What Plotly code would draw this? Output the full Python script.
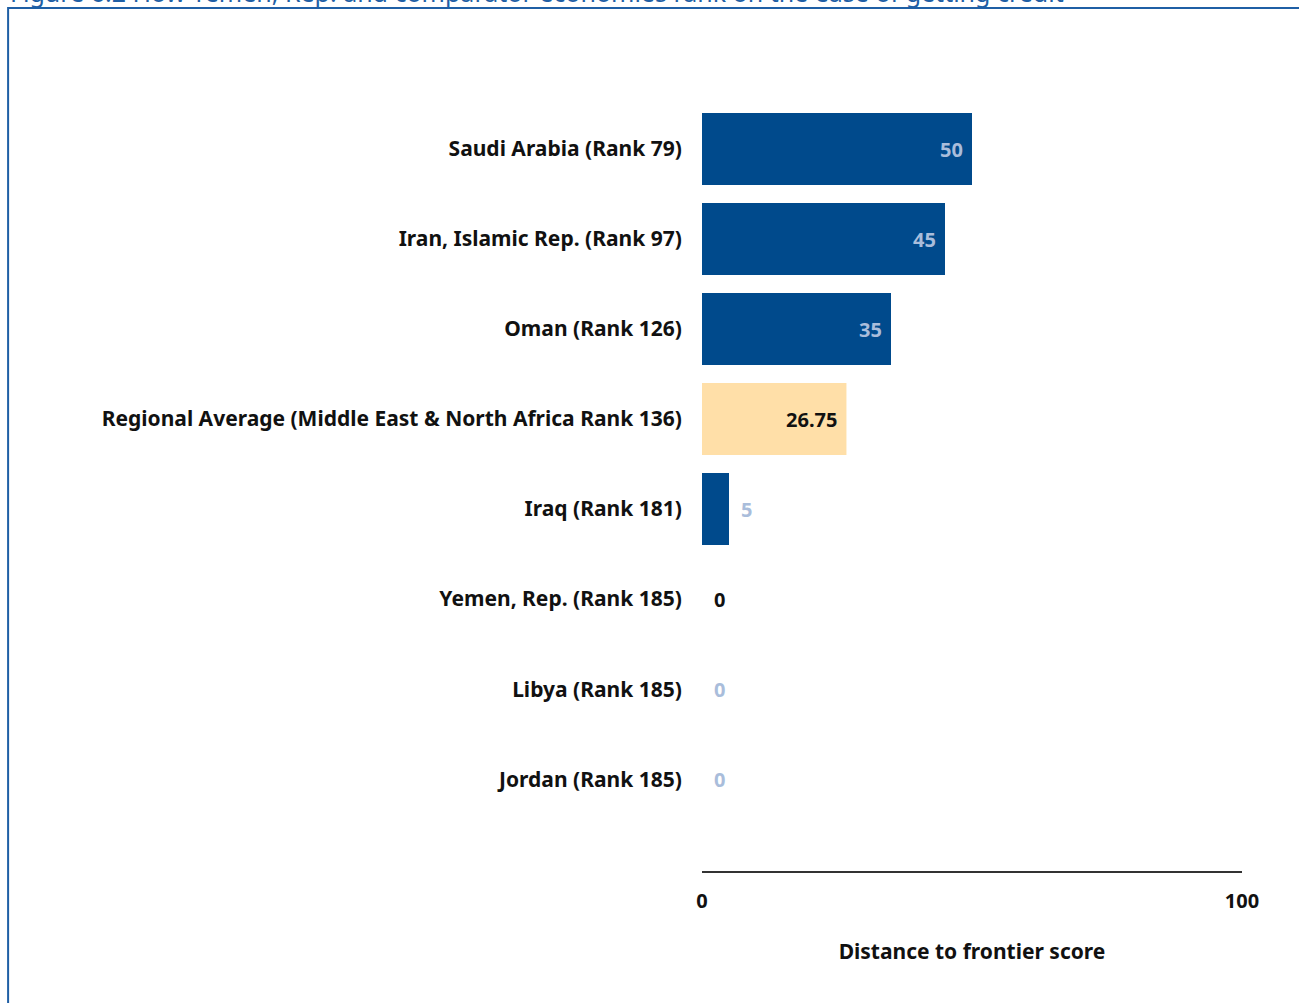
import plotly.graph_objects as go

categories = [
    "Saudi Arabia (Rank 79)",
    "Iran, Islamic Rep. (Rank 97)",
    "Oman (Rank 126)",
    "Regional Average (Middle East & North Africa Rank 136)",
    "Iraq (Rank 181)",
    "Yemen, Rep. (Rank 185)",
    "Libya (Rank 185)",
    "Jordan (Rank 185)",
]
values = [50, 45, 35, 26.75, 5, 0, 0, 0]
value_labels = ["50", "45", "35", "26.75", "5", "0", "0", "0"]
label_inside = [True, True, True, True, False, False, False, False]
bar_colors = ["#004a8c", "#004a8c", "#004a8c", "#ffdfa8", "#004a8c", "#004a8c", "#004a8c", "#004a8c"]
label_colors = ["#a9bddb", "#a9bddb", "#a9bddb", "#111111", "#a9bddb", "#111111", "#a9bddb", "#a9bddb"]
x_ticks = [0, 100]
x_title = "Distance to frontier score"
title_text = "Figure 6.2 How Yemen, Rep. and comparator economies rank on the ease of getting credit"

FONT = "Noto Sans"

fig = go.Figure()
fig.add_trace(go.Bar(
    x=values, y=categories, orientation="h",
    marker=dict(color=bar_colors, line=dict(width=0)),
    width=0.8, hoverinfo="skip",
))

for v, c, lab, inside, col in zip(values, categories, value_labels, label_inside, label_colors):
    fig.add_annotation(
        x=v, y=c, xref="x", yref="y", text=lab, showarrow=False,
        xanchor="right" if inside else "left",
        xshift=-7 if inside else 10,
        font=dict(family=FONT, size=20, color=col, weight="bold"),
    )

# Partially visible figure title (cut at the top edge, as in the reference)
fig.add_annotation(
    x=-1.285, y=1.1208, xref="paper", yref="paper", text=title_text, showarrow=False,
    xanchor="left", yanchor="bottom",
    font=dict(family=FONT, size=25, color="#1f5fa5"),
)

# Frame
fig.add_shape(
    type="rect", xref="paper", yref="paper",
    x0=-1.285, x1=1.12, y0=-0.2, y1=1.1252,
    line=dict(color="#1f5fa5", width=2),
)

fig.update_layout(
    width=1299, height=1003,
    margin=dict(l=702, r=57, t=104, b=132),
    paper_bgcolor="white", plot_bgcolor="white",
    showlegend=False,
    bargap=0.2,
    xaxis=dict(
        range=[0, 100], tickvals=x_ticks, ticktext=[str(t) for t in x_ticks],
        showgrid=False, zeroline=False, showline=True, linecolor="#333333", linewidth=2,
        ticks="outside", ticklen=11, tickcolor="rgba(0,0,0,0)",
        tickfont=dict(family=FONT, size=20, color="#111111", weight="bold"),
        title=dict(text=x_title, font=dict(family=FONT, size=21, color="#111111", weight="bold"), standoff=31),
        fixedrange=True,
    ),
    yaxis=dict(
        categoryorder="array", categoryarray=categories,
        range=[8.02, -0.5],
        showgrid=False, zeroline=False, showline=False,
        ticks="outside", ticklen=15, tickcolor="rgba(0,0,0,0)",
        tickfont=dict(family=FONT, size=21, color="#111111", weight="bold"),
        fixedrange=True,
    ),
)

fig.write_html(
    "out.html",
    config={"displayModeBar": False},
    post_script="document.body.style.margin='0';",
)
